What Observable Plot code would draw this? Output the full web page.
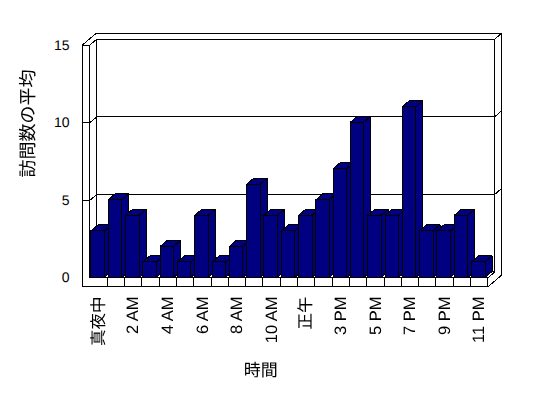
<!DOCTYPE html>
<html>
<head>
<meta charset="utf-8">
<script src="https://cdn.jsdelivr.net/npm/d3@7"></script>
<script src="https://cdn.jsdelivr.net/npm/@observablehq/plot@0.6"></script>
<style>
  html, body { margin: 0; padding: 0; background: white; }
  #chart svg path, #chart svg line, #chart svg rect { shape-rendering: crispEdges; }
  #chart g[aria-label="x-axis tick label"] { font-size: 16.5px; }
  #chart g[aria-label="y-axis tick label"] { font-size: 14px; }
  #chart svg text { text-rendering: geometricPrecision; }
  #chart svg g[aria-label="x-axis tick label"], #chart svg g[aria-label="text"] { filter: grayscale(1); }
</style>
</head>
<body>
<div id="chart"></div>
<script>
// ---- data ----
const categories = ["真夜中","1 AM","2 AM","3 AM","4 AM","5 AM","6 AM","7 AM","8 AM","9 AM","10 AM","11 AM",
  "正午","1 PM","3 PM","4 PM","5 PM","6 PM","7 PM","8 PM","9 PM","10 PM","11 PM"];
const values = [3,5,4,1,2,1,4,1,2,6,4,3,4,5,7,10,4,4,11,3,3,4,1];
const yTicks = [0,5,10,15];
const yTitle = "訪問数の平均";
const xTitle = "時間";

// ---- 3D geometry (in scale units) ----
const N = categories.length;
const yMax = yTicks[yTicks.length - 1];
const DU = 0.405, DV = 0.386;     // depth vector
const WALL = 0.43, FLOOR = 0.58;  // wall / floor slab thickness
const BAR0 = 0.087, BAR1 = 0.87;  // bar front face within category band

const segs = [];
function seg(id, pts) { pts.forEach(([u, v]) => segs.push({id, u, v})); }
seg("outer", [[-WALL,-FLOOR],[-WALL,yMax],[-WALL+2*DU,yMax+2*DV],[N+2*DU,yMax+2*DV],[N+2*DU,-FLOOR+2*DV],[N,-FLOOR],[-WALL,-FLOOR]]);
seg("wallInner", [[0,0],[0,yMax]]);
yTicks.filter(t => t > 0).forEach(t =>
  seg("grid" + t, [[-WALL,t],[0,t],[DU,t+DV],[N+DU,t+DV],[N+2*DU,t+2*DV]]));
seg("backLeft", [[DU,DV],[DU,yMax+DV]]);
seg("backRight", [[N,0],[N+DU,DV],[N+DU,yMax+DV]]);
seg("backBottom", [[DU,DV],[N+DU,DV]]);
seg("floorTop", [[0,0],[N,0]]);
for (let k = 1; k <= N; k++) seg("div" + k, [[k,-FLOOR],[k,0]]);

const bars = values.map((v, i) => ({i, cat: categories[i], v, u0: i + BAR0, u1: i + BAR1}));
const sides = bars.flatMap(b => [
  {i: b.i, u: b.u1, lo: 0, hi: b.v},
  {i: b.i, u: b.u1 + DU, lo: DV, hi: b.v + DV}
]);
const tops = bars.flatMap(b => [
  {i: b.i, v: b.v, a: b.u0, b: b.u1},
  {i: b.i, v: b.v + DV, a: b.u0 + DU, b: b.u1 + DU}
]);
const xTickPos = categories.map((c, i) => i + 0.5).filter((_, i) => i % 2 === 0);

const navy = "#000080";
const font = "'Liberation Sans','Noto Sans CJK JP',sans-serif";

const chart = Plot.plot({
  width: 548,
  height: 398,
  marginLeft: 72.1,
  marginRight: 43.4,
  marginTop: 29,
  marginBottom: 105,
  x: {type: "linear", domain: [-1, 24]},
  y: {type: "linear", domain: [-1, 16]},
  style: {background: "white", color: "black", fontFamily: font, fontSize: "14px", overflow: "visible"},
  marks: [
    Plot.line(segs, {x: "u", y: "v", z: "id", stroke: "black", strokeWidth: 1, curve: "linear"}),
    Plot.areaY(sides, {x: "u", y1: "lo", y2: "hi", z: "i", fill: navy, stroke: "black", strokeWidth: 1, curve: "linear"}),
    Plot.areaX(tops, {y: "v", x1: "a", x2: "b", z: "i", fill: navy, stroke: "black", strokeWidth: 1, curve: "linear"}),
    Plot.rect(bars, {x1: "u0", x2: "u1", y1: 0, y2: "v", fill: navy, stroke: "black", strokeWidth: 1}),
    Plot.axisY({ticks: yTicks, tickSize: 0, tickPadding: 3, label: null, anchor: "left", fill: "black"}),
    Plot.axisX({ticks: xTickPos, tickFormat: d => categories[Math.round(d - 0.5)], tickRotate: -90,
      tickSize: 0, tickPadding: 3, label: null, anchor: "bottom", fill: "black"}),
    Plot.text([yTitle], {frameAnchor: "left", rotate: -90, dx: -44.6, dy: 16, fontSize: 18, fill: "black"}),
    Plot.text([xTitle], {frameAnchor: "bottom", dx: -28, dy: 82.5, fontSize: 17, fill: "black"})
  ]
});
document.getElementById("chart").appendChild(chart);
</script>
</body>
</html>
